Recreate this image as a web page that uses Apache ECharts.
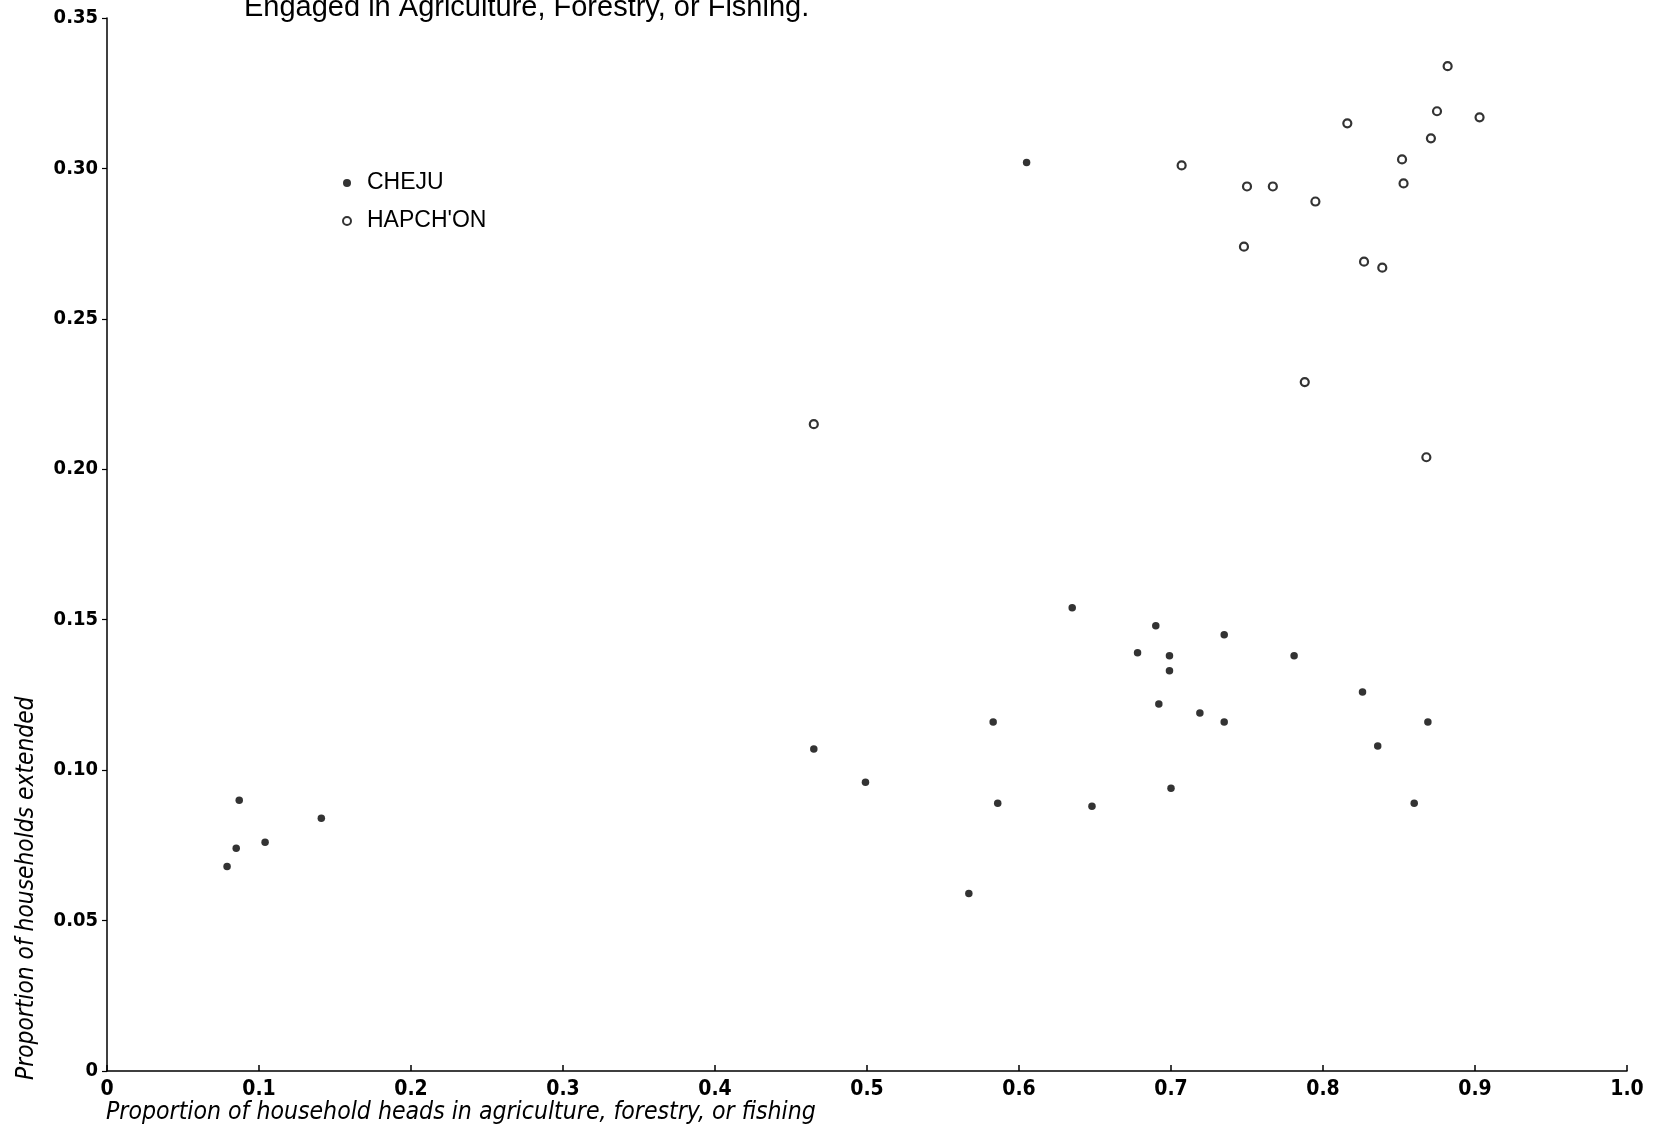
<!DOCTYPE html>
<html>
<head>
<meta charset="utf-8">
<script src="https://cdn.jsdelivr.net/npm/echarts@6/dist/echarts.min.js"></script>
<style>
html,body{margin:0;padding:0;background:#fff;}
#chart{width:1653px;height:1131px;}
</style>
</head>
<body>
<div id="chart"></div>
<script>
// Data
var chejuX = [0.079,0.085,0.087,0.104,0.141,0.465,0.499,0.567,0.583,0.586,0.605,0.635,0.648,0.678,0.690,0.692,0.699,0.699,0.700,0.719,0.735,0.735,0.781,0.826,0.836,0.860,0.869];
var chejuY = [0.068,0.074,0.090,0.076,0.084,0.107,0.096,0.059,0.116,0.089,0.302,0.154,0.088,0.139,0.148,0.122,0.138,0.133,0.094,0.119,0.145,0.116,0.138,0.126,0.108,0.089,0.116];
var hapX = [0.465,0.707,0.750,0.748,0.767,0.795,0.788,0.816,0.827,0.839,0.852,0.853,0.871,0.875,0.882,0.903,0.868];
var hapY = [0.215,0.301,0.294,0.274,0.294,0.289,0.229,0.315,0.269,0.267,0.303,0.295,0.310,0.319,0.334,0.317,0.204];
var xTickLabels = ['0','0.1','0.2','0.3','0.4','0.5','0.6','0.7','0.8','0.9','1.0'];
var yTickLabels = ['0','0.05','0.10','0.15','0.20','0.25','0.30','0.35'];
var seriesNames = ['CHEJU', "HAPCH'ON"];
var titleText = 'Engaged in Agriculture, Forestry, or Fishing.';
var xName = 'Proportion of household heads in agriculture, forestry, or fishing';
var yName = 'Proportion of households extended';

function pairs(xs, ys){ return xs.map(function(x,i){ return [x, ys[i]]; }); }

var NARROW = "'Liberation Sans Narrow', 'DejaVu Sans Condensed', 'Liberation Sans', sans-serif";
var SANS = "'Liberation Sans', 'DejaVu Sans', sans-serif";
var chart = echarts.init(document.getElementById('chart'));
chart.setOption({
  backgroundColor: '#fff',
  animation: false,
  grid: {left: 107, right: 26, top: 18, bottom: 60, containLabel: false},
  legend: {
    orient: 'vertical', left: 337, top: 166,
    itemWidth: 8, itemHeight: 8, itemGap: 14,
    textStyle: {fontFamily: SANS, fontSize: 23, color: '#000', lineHeight: 24, padding: [0,0,0,11]},
    data: [
      {name: seriesNames[0], icon: 'circle', itemStyle: {color: '#000', borderWidth: 0}},
      {name: seriesNames[1], icon: 'circle', itemStyle: {color: '#fff', borderColor: '#000', borderWidth: 2}}
    ]
  },
  xAxis: {
    type: 'value', min: 0, max: 1, interval: 0.1,
    axisLine: {show: true, lineStyle: {color: '#000', width: 1.5}},
    axisTick: {show: true, inside: true, length: 6, lineStyle: {color: '#000', width: 1.5}},
    splitLine: {show: false},
    axisLabel: {margin: 8, fontFamily: NARROW, fontSize: 21, color: '#000', fontWeight: 'bold',
      formatter: function(v, i){ return xTickLabels[i]; }}
  },
  yAxis: {
    type: 'value', min: 0, max: 0.35, interval: 0.05,
    axisLine: {show: true, lineStyle: {color: '#000', width: 1.5}},
    axisTick: {show: true, inside: false, length: 5, lineStyle: {color: '#000', width: 1.2}},
    splitLine: {show: false},
    axisLabel: {margin: 9, fontFamily: NARROW, fontSize: 20, color: '#000', fontWeight: 'bold',
      formatter: function(v, i){ return yTickLabels[i]; }}
  },
  graphic: [
    {type: 'text', left: 244, top: -7, style: {text: titleText, font: "29px " + SANS, fill: '#000'}},
    {type: 'text', left: 106, top: 1100, style: {text: xName, font: "italic 24.6px " + NARROW, fill: '#000'}},
    {type: 'text', x: 15, y: 1080, rotation: Math.PI/2, style: {text: yName, font: "italic 24.3px " + NARROW, fill: '#000', align: 'left', verticalAlign: 'top'}}
  ],
  series: [
    {name: seriesNames[0], type: 'scatter', symbol: 'circle', symbolSize: 7.5,
      itemStyle: {color: '#000'}, data: pairs(chejuX, chejuY)},
    {name: seriesNames[1], type: 'scatter', symbol: 'circle', symbolSize: 8,
      itemStyle: {color: '#fff', borderColor: '#000', borderWidth: 2.2}, data: pairs(hapX, hapY)}
  ]
});
</script>
</body>
</html>
